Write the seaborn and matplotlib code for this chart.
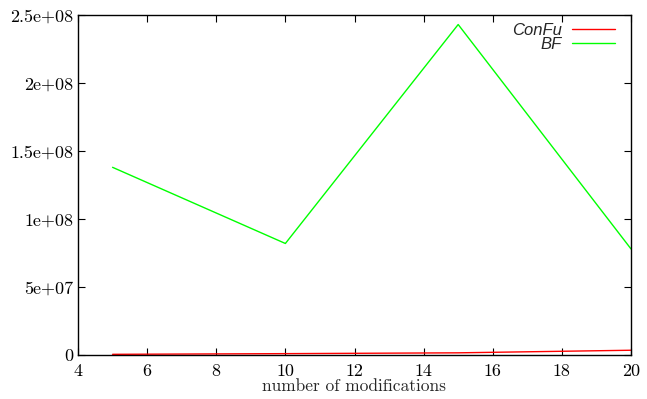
import matplotlib
matplotlib.use("Agg")
import matplotlib.pyplot as plt
import seaborn as sns
import pandas as pd
from matplotlib.lines import Line2D

modifications = [5, 10, 15, 20]
confu = [5e5, 1.0e6, 1.6e6, 3.5e6]
bf = [1.38e8, 8.2e7, 2.43e8, 7.8e7]
series_names = ["ConFu", "BF"]
colors = {"ConFu": "#ff0000", "BF": "#00ff00"}
xticks = [4, 6, 8, 10, 12, 14, 16, 18, 20]
yticks = [0, 5e7, 1e8, 1.5e8, 2e8, 2.5e8]
ytick_labels = ["0", "5e+07", "1e+08", "1.5e+08", "2e+08", "2.5e+08"]

df = pd.DataFrame({
    "mods": modifications * 2,
    "value": confu + bf,
    "series": [series_names[0]] * len(confu) + [series_names[1]] * len(bf),
})

sns.set_style("ticks")
plt.rcParams["font.family"] = ["cmr10", "DejaVu Serif"]
plt.rcParams["axes.formatter.use_mathtext"] = False

fig = plt.figure(figsize=(6.47, 3.99), dpi=100)
ax = fig.add_axes([78/647, 1 - 355/399, (631-78)/647, (355-15)/399])

sns.lineplot(data=df, x="mods", y="value", hue="series", palette=colors,
             ax=ax, linewidth=1.0, legend=False)

ax.set_xlim(4, 20)
ax.set_ylim(0, 2.5e8)
ax.set_xticks(xticks)
ax.set_yticks(yticks)
ax.set_yticklabels(ytick_labels)
ax.tick_params(direction="in", top=True, right=True, length=5, width=0.8,
               labelsize=13, colors="black")
ax.tick_params(axis="x", pad=6)
for s in ax.spines.values():
    s.set_color("black")
    s.set_linewidth(1.0)
ax.set_xlabel("number of modifications", fontsize=12.5, labelpad=0)
ax.set_ylabel("")

handles = [Line2D([], [], color=colors[n], lw=1.0) for n in series_names]
leg = ax.legend(handles, series_names, loc="upper right", frameon=False,
                markerfirst=False, handlelength=2.6, labelspacing=-0.05,
                prop={"family": ["Liberation Sans", "DejaVu Sans"], "style": "italic", "size": 12},
                borderaxespad=0, borderpad=0, handletextpad=0.6,
                bbox_to_anchor=(0.971, 0.976))

fig.savefig("out.png", dpi=100)
